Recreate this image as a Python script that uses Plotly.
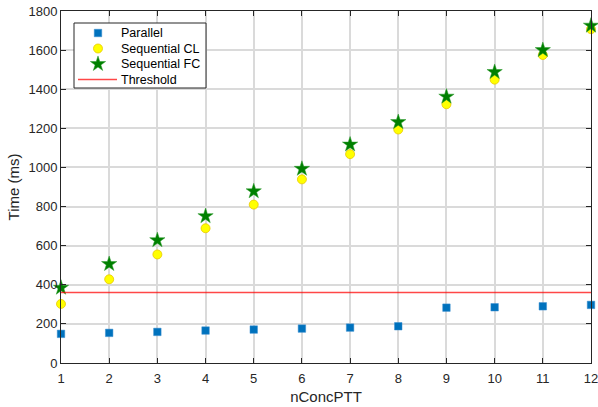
import plotly.graph_objects as go

n_conc = [1, 2, 3, 4, 5, 6, 7, 8, 9, 10, 11, 12]
parallel = [149, 154, 159, 166, 171, 176, 181, 188, 283, 285, 290, 297]
seq_cl = [302, 428, 555, 689, 810, 939, 1068, 1194, 1323, 1449, 1575, 1707]
seq_fc = [385, 506, 628, 751, 878, 993, 1117, 1232, 1362, 1488, 1600, 1725]
threshold = 360
series_names = ["Parallel", "Sequential CL", "Sequential FC", "Threshold"]

FONT = "Liberation Sans, Arial, Helvetica"
sq = dict(symbol="square", size=7.5, color="#0072BD", line=dict(width=0.5, color="#3a8fd0"))
ci = dict(symbol="circle", size=9, color="#FFFF00", line=dict(width=0.8, color="#E8C800"))
st = dict(symbol="star", size=11.5, color="#008000", line=dict(width=0.5, color="#2a9a2a"))
ln = dict(color="rgba(255,0,0,0.72)", width=1.5)

fig = go.Figure()
fig.add_trace(go.Scatter(x=n_conc, y=parallel, mode="markers", name=series_names[0], marker=sq,
                         cliponaxis=False))
fig.add_trace(go.Scatter(x=n_conc, y=seq_cl, mode="markers", name=series_names[1], marker=ci,
                         cliponaxis=False))
fig.add_trace(go.Scatter(x=n_conc, y=seq_fc, mode="markers", name=series_names[2], marker=st,
                         cliponaxis=False))
fig.add_trace(go.Scatter(x=[n_conc[0], n_conc[-1]], y=[threshold, threshold], mode="lines",
                         name=series_names[3], line=ln))

# Compact MATLAB-style legend drawn on an overlay axis in pixel units
L, R, T, B = 61, 591, 11, 363
bx0, bx1, by0, by1 = 74, 206, 23, 88
rows = [33, 48.5, 64, 79.5]
sym_x = 98
fig.add_trace(go.Scatter(x=[bx0, bx1, bx1, bx0, bx0], y=[by0, by0, by1, by1, by0],
                         xaxis="x2", yaxis="y2", mode="lines", fill="toself", fillcolor="white",
                         line=dict(color="#262626", width=1), showlegend=False, hoverinfo="skip"))
for r, m in zip(rows[:3], [sq, ci, st]):
    fig.add_trace(go.Scatter(x=[sym_x], y=[r], xaxis="x2", yaxis="y2", mode="markers",
                             marker=m, showlegend=False, hoverinfo="skip"))
fig.add_trace(go.Scatter(x=[78, 117], y=[rows[3], rows[3]], xaxis="x2", yaxis="y2", mode="lines",
                         line=ln, showlegend=False, hoverinfo="skip"))
for r, name in zip(rows, series_names):
    fig.add_annotation(x=120, y=r, xref="x2", yref="y2", text=name, showarrow=False,
                       xanchor="left", yanchor="middle", xshift=-1,
                       font=dict(family=FONT, size=12.5, color="#000000"))

axis_common = dict(showline=True, linecolor="#262626", linewidth=1, mirror="ticks",
                   ticks="inside", ticklen=5, tickcolor="#262626",
                   showgrid=True, gridcolor="#DADADA", gridwidth=1.5,
                   zeroline=False, ticklabeloverflow="allow",
                   tickfont=dict(family=FONT, size=13, color="#262626"))

fig.update_layout(
    width=598, height=407,
    margin=dict(l=L, r=598 - R, t=T, b=407 - B, autoexpand=False),
    plot_bgcolor="white", paper_bgcolor="white",
    font=dict(family=FONT, size=13, color="#262626"),
    xaxis=dict(range=[1, 12], tickvals=n_conc, ticklabelstandoff=3,
               title=dict(text="nConcPTT", font=dict(size=15), standoff=6), **axis_common),
    yaxis=dict(range=[0, 1800], dtick=200,
               title=dict(text="Time (ms)", font=dict(size=15), standoff=5), **axis_common),
    xaxis2=dict(range=[L, R], overlaying="x", visible=False, fixedrange=True),
    yaxis2=dict(range=[B, T], overlaying="y", visible=False, fixedrange=True),
    showlegend=False,
)

fig.write_html("out.html")
